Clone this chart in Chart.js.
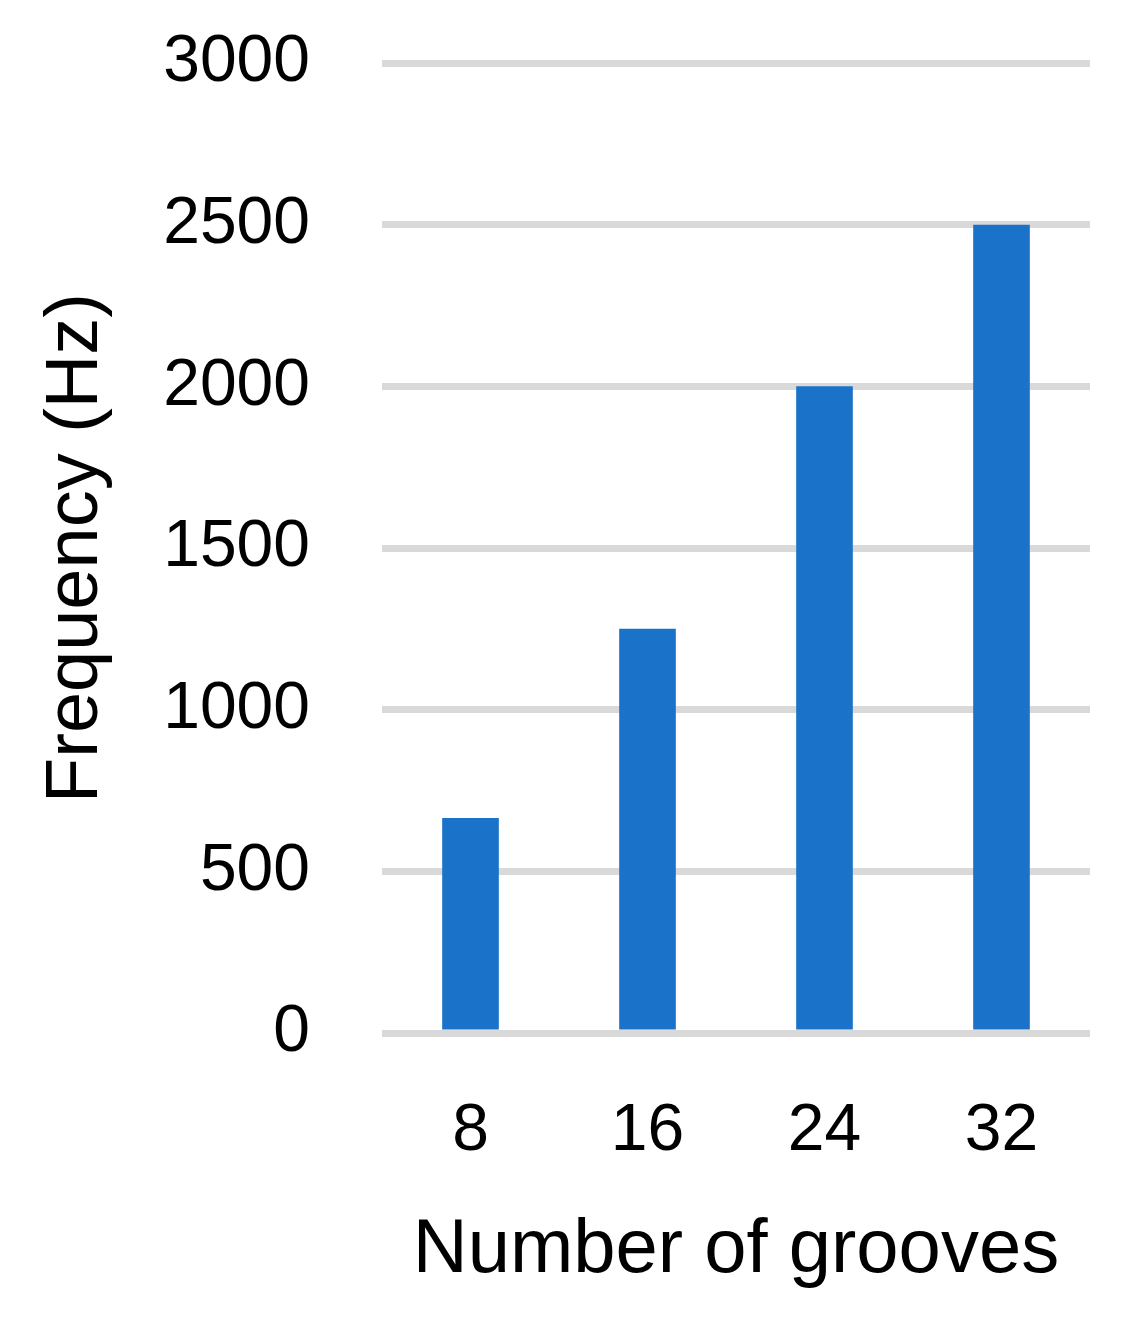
<!DOCTYPE html>
<html>
<head>
<meta charset="utf-8">
<script src="https://cdn.jsdelivr.net/npm/chart.js@4"></script>
<style>
  html, body { margin: 0; padding: 0; background: #ffffff; }
  #wrap { width: 1144px; height: 1331px; }
</style>
</head>
<body>
<div id="wrap"><canvas id="grooveChart"></canvas></div>
<script>
// values
const grooveCounts = ["8", "16", "24", "32"];
const frequencyHz = [665, 1250, 2000, 2500];
const yTicks = [0, 500, 1000, 1500, 2000, 2500, 3000];

const grooveChart = document.getElementById("grooveChart");

new Chart(grooveChart, {
  type: "bar",
  data: {
    labels: grooveCounts,
    datasets: [
      {
        data: frequencyHz,
        backgroundColor: "#1a73c8",
        borderWidth: 0,
        barPercentage: 0.32,
        categoryPercentage: 1,
      },
    ],
  },
  options: {
    responsive: true,
    maintainAspectRatio: false,
    animation: false,
    devicePixelRatio: 1,
    layout: {
      padding: { top: 63, right: 54, bottom: 34, left: 32 },
    },
    scales: {
      x: {
        afterFit: (axis) => {
          axis.height = 264; // keeps plot bottom where the picture has it
        },
        grid: { display: false, drawTicks: false },
        border: { display: false },
        ticks: {
          color: "#000000",
          padding: 59,
          maxRotation: 0,
          font: { family: "Liberation Sans", size: 66 },
        },
        title: {
          display: true,
          text: "Number of grooves",
          color: "#000000",
          padding: { top: 0, bottom: 0 },
          font: { family: "Liberation Sans", size: 76 },
        },
      },
      y: {
        min: 0,
        max: 3000,
        afterBuildTicks: (axis) => {
          axis.ticks = yTicks.map((v) => ({ value: v }));
        },
        afterFit: (axis) => {
          axis.width = 350;
          // the tick padding would otherwise push the plot top down
          axis.paddingTop = 0;
          axis.paddingBottom = 0;
        },
        grid: {
          color: "#d9d9d9",
          lineWidth: 7,
          drawTicks: false,
        },
        border: { display: false },
        ticks: {
          color: "#000000",
          padding: 72,
          callback: (value) => String(value),
          font: { family: "Liberation Sans", size: 66 },
        },
        title: {
          display: true,
          text: "Frequency (Hz)",
          color: "#000000",
          padding: { top: 0, bottom: 0 },
          font: { family: "Liberation Sans", size: 74 },
        },
      },
    },
    plugins: {
      legend: { display: false },
      tooltip: { enabled: false },
    },
  },
});
</script>
</body>
</html>
